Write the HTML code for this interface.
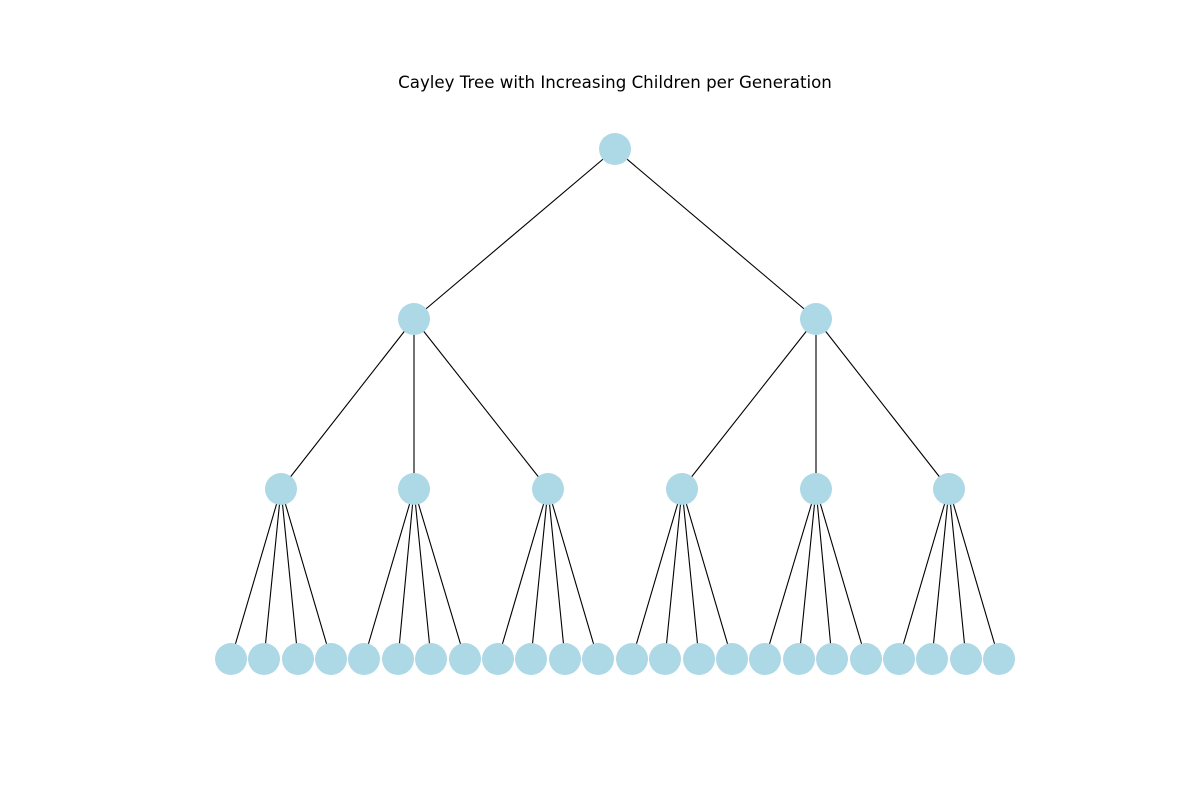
<!DOCTYPE html>
<html><head><meta charset="utf-8"><style>html,body{margin:0;padding:0;background:#fff}</style></head>
<body>
<svg width="1200" height="800" xmlns="http://www.w3.org/2000/svg">
<rect width="1200" height="800" fill="#fff"/>
<text x="615" y="88" text-anchor="middle" font-family="DejaVu Sans, sans-serif" font-size="16.65" fill="#000">Cayley Tree with Increasing Children per Generation</text>
<g stroke="#000" stroke-width="1.1">
<line x1="615" y1="149" x2="414" y2="319"/>
<line x1="615" y1="149" x2="816" y2="319"/>
<line x1="414" y1="319" x2="281" y2="489"/>
<line x1="414" y1="319" x2="414" y2="489"/>
<line x1="414" y1="319" x2="548" y2="489"/>
<line x1="816" y1="319" x2="682" y2="489"/>
<line x1="816" y1="319" x2="816" y2="489"/>
<line x1="816" y1="319" x2="949" y2="489"/>
<line x1="281" y1="489" x2="231" y2="659"/><line x1="281" y1="489" x2="264" y2="659"/><line x1="281" y1="489" x2="298" y2="659"/><line x1="281" y1="489" x2="331" y2="659"/>
<line x1="414" y1="489" x2="364" y2="659"/><line x1="414" y1="489" x2="398" y2="659"/><line x1="414" y1="489" x2="431" y2="659"/><line x1="414" y1="489" x2="465" y2="659"/>
<line x1="548" y1="489" x2="498" y2="659"/><line x1="548" y1="489" x2="531" y2="659"/><line x1="548" y1="489" x2="565" y2="659"/><line x1="548" y1="489" x2="598" y2="659"/>
<line x1="682" y1="489" x2="632" y2="659"/><line x1="682" y1="489" x2="665" y2="659"/><line x1="682" y1="489" x2="699" y2="659"/><line x1="682" y1="489" x2="732" y2="659"/>
<line x1="816" y1="489" x2="765" y2="659"/><line x1="816" y1="489" x2="799" y2="659"/><line x1="816" y1="489" x2="832" y2="659"/><line x1="816" y1="489" x2="866" y2="659"/>
<line x1="949" y1="489" x2="899" y2="659"/><line x1="949" y1="489" x2="932" y2="659"/><line x1="949" y1="489" x2="966" y2="659"/><line x1="949" y1="489" x2="999" y2="659"/>
</g>
<g fill="#add8e6">
<circle cx="615" cy="149" r="16"/>
<circle cx="414" cy="319" r="16"/><circle cx="816" cy="319" r="16"/>
<circle cx="281" cy="489" r="16"/><circle cx="414" cy="489" r="16"/><circle cx="548" cy="489" r="16"/><circle cx="682" cy="489" r="16"/><circle cx="816" cy="489" r="16"/><circle cx="949" cy="489" r="16"/>
<circle cx="231" cy="659" r="16"/><circle cx="264" cy="659" r="16"/><circle cx="298" cy="659" r="16"/><circle cx="331" cy="659" r="16"/>
<circle cx="364" cy="659" r="16"/><circle cx="398" cy="659" r="16"/><circle cx="431" cy="659" r="16"/><circle cx="465" cy="659" r="16"/>
<circle cx="498" cy="659" r="16"/><circle cx="531" cy="659" r="16"/><circle cx="565" cy="659" r="16"/><circle cx="598" cy="659" r="16"/>
<circle cx="632" cy="659" r="16"/><circle cx="665" cy="659" r="16"/><circle cx="699" cy="659" r="16"/><circle cx="732" cy="659" r="16"/>
<circle cx="765" cy="659" r="16"/><circle cx="799" cy="659" r="16"/><circle cx="832" cy="659" r="16"/><circle cx="866" cy="659" r="16"/>
<circle cx="899" cy="659" r="16"/><circle cx="932" cy="659" r="16"/><circle cx="966" cy="659" r="16"/><circle cx="999" cy="659" r="16"/>
</g>
</svg>
</body></html>
